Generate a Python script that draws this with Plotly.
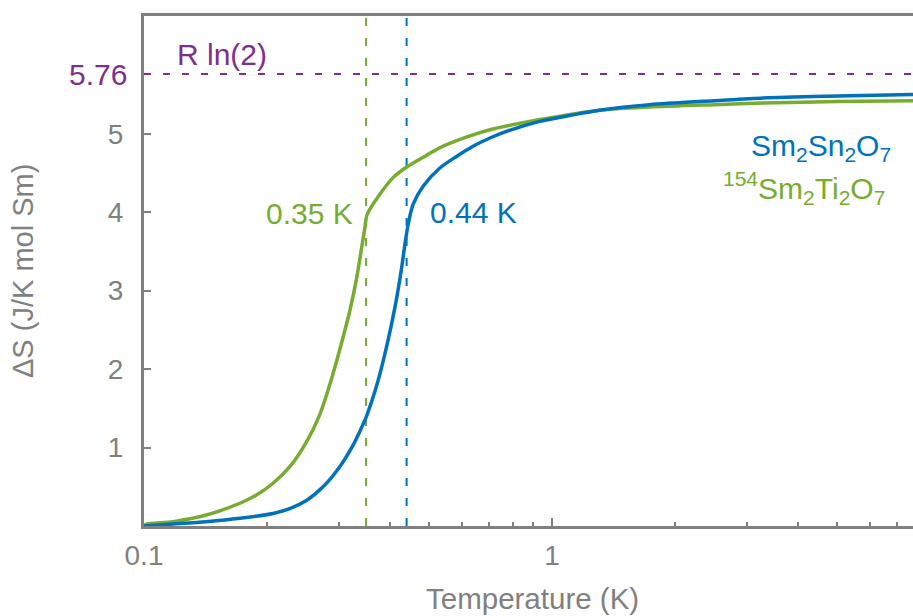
import math
import plotly.graph_objects as go

# Entropy released on warming, Delta S(T), for the two pyrochlores
t_sn = [0.100, 0.1178, 0.1422, 0.1717, 0.2071, 0.2276, 0.2500, 0.2746, 0.3018,
        0.3253, 0.3410, 0.3510, 0.3712, 0.3928, 0.4117, 0.4275, 0.4378, 0.4461,
        0.4564, 0.4830, 0.5300, 0.5830, 0.6400, 0.7040, 0.7730, 0.9330, 1.1260,
        1.3090, 1.7340, 2.5000, 3.2900, 5.0000, 7.7000]
s_sn = [0.00, 0.025, 0.055, 0.098, 0.160, 0.222, 0.325, 0.50, 0.756,
        1.03, 1.25, 1.40, 1.78, 2.28, 2.78, 3.28, 3.66, 3.90,
        4.10, 4.33, 4.56, 4.71, 4.84, 4.945, 5.03, 5.157, 5.24,
        5.30, 5.37, 5.42, 5.455, 5.48, 5.50]

t_ti = [0.100, 0.1010, 0.1178, 0.1422, 0.1717, 0.1886, 0.2071, 0.2276, 0.2500,
        0.2696, 0.2852, 0.3018, 0.3193, 0.3316, 0.3410, 0.3475, 0.3521, 0.3750,
        0.4077, 0.4400, 0.4830, 0.5300, 0.6110, 0.7040, 0.9330, 1.3090, 1.7340,
        2.5000, 3.2900, 5.0000, 7.7000]
s_ti = [0.00, 0.02, 0.055, 0.14, 0.29, 0.395, 0.545, 0.756, 1.07,
        1.42, 1.80, 2.25, 2.74, 3.15, 3.53, 3.79, 3.97, 4.20,
        4.44, 4.575, 4.70, 4.82, 4.95, 5.05, 5.18, 5.30, 5.34,
        5.37, 5.39, 5.41, 5.42]

t_order_sn = 0.44
t_order_ti = 0.35
r_ln2 = 5.76

x_major = [0.1, 1]
x_major_text = ["0.1", "1"]
x_minor = [0.2, 0.3, 0.4, 0.5, 0.6, 0.7, 0.8, 0.9, 2, 3, 4, 5, 6, 7]
y_ticks = [1, 2, 3, 4, 5]

BLUE = "#0072BD"
GREEN = "#77AC30"
PURPLE = "#7E2F8E"
GRAY = "#808080"
FONT = "Liberation Sans, Arial, sans-serif"

fig = go.Figure()

fig.add_trace(go.Scatter(x=t_ti, y=s_ti, mode="lines",
                         line=dict(color=GREEN, width=3.5, shape="spline",
                                   smoothing=0.8),
                         name="154Sm2Ti2O7"))
fig.add_trace(go.Scatter(x=t_sn, y=s_sn, mode="lines",
                         line=dict(color=BLUE, width=3.5, shape="spline",
                                   smoothing=0.8),
                         name="Sm2Sn2O7"))

# reference lines: R ln2 and the two ordering temperatures
fig.add_hline(y=r_ln2, line=dict(color=PURPLE, width=2, dash="7px,12px"),
              layer="below")
fig.add_vline(x=t_order_ti, line=dict(color=GREEN, width=2, dash="8px,12px"),
              layer="below")
fig.add_vline(x=t_order_sn, line=dict(color=BLUE, width=2, dash="8px,12px"),
              layer="below")

lg = math.log10
ann = []
ann.append(dict(x=lg(0.155), y=6.01, text="R ln(2)", showarrow=False,
                font=dict(size=30, color=PURPLE), xanchor="center",
                yanchor="middle"))
ann.append(dict(x=0, xref="paper", y=r_ln2, text=f"{r_ln2:.2f}",
                showarrow=False, font=dict(size=30, color=PURPLE),
                xanchor="right", yanchor="middle", xshift=-15))
ann.append(dict(x=lg(0.328), y=3.98, text=f"{t_order_ti:.2f} K",
                showarrow=False, font=dict(size=30, color=GREEN),
                xanchor="right", yanchor="middle"))
ann.append(dict(x=lg(0.496), y=4.00, text=f"{t_order_sn:.2f} K",
                showarrow=False, font=dict(size=30, color=BLUE),
                xanchor="left", yanchor="middle"))
ann.append(dict(x=lg(6.85), y=4.82,
                text="Sm<sub>2</sub>Sn<sub>2</sub>O<sub>7</sub>",
                showarrow=False, font=dict(size=30, color=BLUE),
                xanchor="right", yanchor="middle"))
ann.append(dict(x=lg(6.62), y=4.31,
                text="<sup>154</sup>Sm<sub>2</sub>Ti<sub>2</sub>O<sub>7</sub>",
                showarrow=False, font=dict(size=30, color=GREEN),
                xanchor="right", yanchor="middle"))
# axis titles
ann.append(dict(x=0.505, xref="paper", y=0, yref="paper",
                text="Temperature (K)", showarrow=False,
                font=dict(size=29.5, color=GRAY), xanchor="center",
                yanchor="middle", yshift=-72))
ann.append(dict(x=0, xref="paper", y=0.5, yref="paper",
                text="ΔS (J/K mol Sm)", showarrow=False, textangle=-90,
                font=dict(size=29, color=GRAY), xanchor="center",
                yanchor="middle", xshift=-121))

fig.update_layout(
    width=913, height=616,
    margin=dict(l=144, r=0, t=16, b=90),
    paper_bgcolor="white", plot_bgcolor="white",
    showlegend=False,
    font=dict(family=FONT, color=GRAY),
    annotations=ann,
    xaxis=dict(type="log", range=[-1, lg(7.66)],
               tickmode="array", tickvals=x_major, ticktext=x_major_text,
               ticks="inside", ticklen=8, tickwidth=2, tickcolor=GRAY,
               tickfont=dict(size=28, color=GRAY), ticklabelstandoff=2,
               minor=dict(tickmode="array", tickvals=x_minor, ticks="inside",
                          ticklen=4, tickwidth=2, tickcolor=GRAY,
                          showgrid=False),
               showline=True, linewidth=3, linecolor=GRAY, mirror=True,
               showgrid=False, zeroline=False),
    yaxis=dict(range=[0, 6.5], tickmode="array", tickvals=y_ticks,
               ticks="inside", ticklen=7, tickwidth=2, tickcolor=GRAY,
               tickfont=dict(size=28, color=GRAY), ticklabelstandoff=12,
               showline=True, linewidth=3, linecolor=GRAY,
               showgrid=False, zeroline=False),
)

fig.write_html("out.html")
